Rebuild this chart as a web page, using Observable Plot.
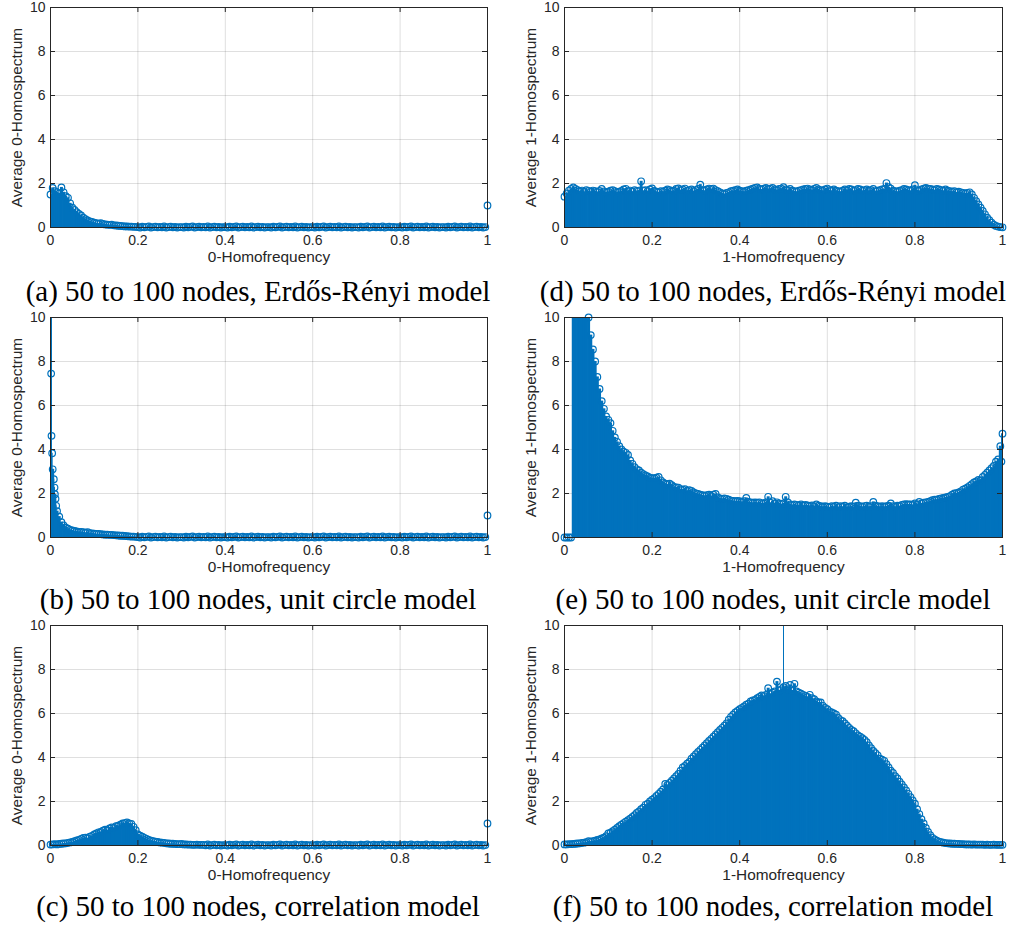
<!DOCTYPE html>
<html><head><meta charset="utf-8">
<script src="https://cdn.jsdelivr.net/npm/d3@7"></script>
<script src="https://cdn.jsdelivr.net/npm/@observablehq/plot@0.6"></script>
<style>
body{margin:0;background:#fff;}
#wrap{position:relative;width:1010px;height:928px;overflow:hidden;background:#fff;}
.panel{position:absolute;}
.cap{position:absolute;font-family:"Liberation Serif","Times New Roman",serif;font-size:29px;line-height:29px;color:#000;white-space:nowrap;transform:translateX(-50%);}
</style></head><body><div id="wrap"></div>
<script>
// frequency grid step (homofrequency sampled every 0.005)
const freqStep = 0.005;
const xTicks = [0, 0.2, 0.4, 0.6, 0.8, 1];
const yTicks = [0, 2, 4, 6, 8, 10];
const xLabels = ["0-Homofrequency", "1-Homofrequency"];
const yLabels = ["Average 0-Homospectrum", "Average 1-Homospectrum"];
const captions = [
  "(a) 50 to 100 nodes, Erdős-Rényi model",
  "(b) 50 to 100 nodes, unit circle model",
  "(c) 50 to 100 nodes, correlation model",
  "(d) 50 to 100 nodes, Erdős-Rényi model",
  "(e) 50 to 100 nodes, unit circle model",
  "(f) 50 to 100 nodes, correlation model"
];

// (a) 0-homospectrum, Erdős-Rényi (grid 0 .. 0.995)
const aSpec = [
1.5,1.8,1.65,1.6,1.55,1.82,1.6,1.42,1.35,1.1,
0.9,0.8,0.7,0.62,0.55,0.45,0.38,0.32,0.28,0.25,
0.22,0.2,0.18,0.2,0.16,0.14,0.13,0.12,0.13,0.1,
0.09,0.08,0.07,0.06,0.05,0.05,0.04,0.04,0.03,0.03,
0.02,0.0,0.04,0.01,0.03,0.05,0.0,0.02,0.04,0.01,
0.03,0.01,0.05,0.0,0.02,0.04,0.01,0.03,0.0,0.02,
0.02,0.0,0.04,0.01,0.03,0.05,0.0,0.02,0.04,0.01,
0.03,0.01,0.05,0.0,0.02,0.04,0.01,0.03,0.0,0.02,
0.02,0.0,0.04,0.01,0.03,0.05,0.0,0.02,0.04,0.01,
0.03,0.01,0.05,0.0,0.02,0.04,0.01,0.03,0.0,0.02,
0.02,0.0,0.04,0.01,0.03,0.05,0.0,0.02,0.04,0.01,
0.03,0.01,0.05,0.0,0.02,0.04,0.01,0.03,0.0,0.02,
0.02,0.0,0.04,0.01,0.03,0.05,0.0,0.02,0.04,0.01,
0.03,0.01,0.05,0.0,0.02,0.04,0.01,0.03,0.0,0.02,
0.02,0.0,0.04,0.01,0.03,0.05,0.0,0.02,0.04,0.01,
0.03,0.01,0.05,0.0,0.02,0.04,0.01,0.03,0.0,0.02,
0.02,0.0,0.04,0.01,0.03,0.05,0.0,0.02,0.04,0.01,
0.03,0.01,0.05,0.0,0.02,0.04,0.01,0.03,0.0,0.02,
0.02,0.0,0.04,0.01,0.03,0.05,0.0,0.02,0.04,0.01,
0.03,0.01,0.05,0.0,0.02,0.04,0.01,0.03,0.0,0.02];
const aExtraFreq = [1];
const aExtraSpec = [1.0];

// (b) 0-homospectrum, unit circle (grid 0 .. 0.995)
const bSpec = [
14,3.1,1.97,1.2,0.95,0.7,0.55,0.45,0.4,0.35,
0.32,0.3,0.28,0.26,0.25,0.24,0.22,0.24,0.2,0.19,
0.17,0.16,0.16,0.15,0.14,0.13,0.13,0.12,0.12,0.11,
0.1,0.09,0.08,0.08,0.07,0.06,0.05,0.04,0.04,0.03,
0.02,0.0,0.04,0.01,0.03,0.05,0.0,0.02,0.04,0.01,
0.03,0.01,0.05,0.0,0.02,0.04,0.01,0.03,0.0,0.02,
0.02,0.0,0.04,0.01,0.03,0.05,0.0,0.02,0.04,0.01,
0.03,0.01,0.05,0.0,0.02,0.04,0.01,0.03,0.0,0.02,
0.02,0.0,0.04,0.01,0.03,0.05,0.0,0.02,0.04,0.01,
0.03,0.01,0.05,0.0,0.02,0.04,0.01,0.03,0.0,0.02,
0.02,0.0,0.04,0.01,0.03,0.05,0.0,0.02,0.04,0.01,
0.03,0.01,0.05,0.0,0.02,0.04,0.01,0.03,0.0,0.02,
0.02,0.0,0.04,0.01,0.03,0.05,0.0,0.02,0.04,0.01,
0.03,0.01,0.05,0.0,0.02,0.04,0.01,0.03,0.0,0.02,
0.02,0.0,0.04,0.01,0.03,0.05,0.0,0.02,0.04,0.01,
0.03,0.01,0.05,0.0,0.02,0.04,0.01,0.03,0.0,0.02,
0.02,0.0,0.04,0.01,0.03,0.05,0.0,0.02,0.04,0.01,
0.03,0.01,0.05,0.0,0.02,0.04,0.01,0.03,0.0,0.02,
0.02,0.0,0.04,0.01,0.03,0.05,0.0,0.02,0.04,0.01,
0.03,0.01,0.05,0.0,0.02,0.04,0.01,0.03,0.0,0.02];
const bExtraFreq = [0.0015, 0.0023, 0.0038, 0.0076, 0.0092, 0.0115, 0.013, 1];
const bExtraSpec = [7.45, 4.62, 3.83, 2.65, 2.27, 1.76, 1.44, 1.0];

// (c) 0-homospectrum, correlation (grid 0 .. 0.995)
const cSpec = [
0.04,0.05,0.06,0.05,0.07,0.08,0.09,0.1,0.12,0.14,
0.16,0.2,0.23,0.26,0.3,0.34,0.36,0.33,0.4,0.44,
0.5,0.55,0.6,0.62,0.68,0.72,0.7,0.78,0.82,0.8,
0.88,0.9,0.95,1.0,1.02,1.05,1.0,0.98,0.85,0.7,
0.5,0.45,0.4,0.35,0.3,0.25,0.22,0.2,0.18,0.16,
0.14,0.13,0.12,0.1,0.09,0.08,0.08,0.07,0.06,0.06,
0.07,0.05,0.05,0.04,0.04,0.03,0.03,0.04,0.03,0.03,
0.03,0.01,0.05,0.0,0.02,0.04,0.01,0.03,0.0,0.02,
0.02,0.0,0.04,0.01,0.03,0.05,0.0,0.02,0.04,0.01,
0.03,0.01,0.05,0.0,0.02,0.04,0.01,0.03,0.0,0.02,
0.02,0.0,0.04,0.01,0.03,0.05,0.0,0.02,0.04,0.01,
0.03,0.01,0.05,0.0,0.02,0.04,0.01,0.03,0.0,0.02,
0.02,0.0,0.04,0.01,0.03,0.05,0.0,0.02,0.04,0.01,
0.03,0.01,0.05,0.0,0.02,0.04,0.01,0.03,0.0,0.02,
0.02,0.0,0.04,0.01,0.03,0.05,0.0,0.02,0.04,0.01,
0.03,0.01,0.05,0.0,0.02,0.04,0.01,0.03,0.0,0.02,
0.02,0.0,0.04,0.01,0.03,0.05,0.0,0.02,0.04,0.01,
0.03,0.01,0.05,0.0,0.02,0.04,0.01,0.03,0.0,0.02,
0.02,0.0,0.04,0.01,0.03,0.05,0.0,0.02,0.04,0.01,
0.03,0.01,0.05,0.0,0.02,0.04,0.01,0.03,0.0,0.02];
const cExtraFreq = [1];
const cExtraSpec = [1.0];

// (d) 1-homospectrum, Erdős-Rényi (grid 0 .. 1)
const dSpec = [
1.4,1.55,1.68,1.75,1.82,1.75,1.7,1.65,1.68,1.62,
1.7,1.66,1.63,1.68,1.65,1.62,1.66,1.75,1.64,1.6,
1.63,1.67,1.7,1.65,1.6,1.63,1.66,1.73,1.76,1.65,
1.68,1.63,1.7,1.66,1.68,2.1,1.67,1.7,1.65,1.73,
1.78,1.66,1.63,1.6,1.65,1.63,1.67,1.73,1.7,1.65,
1.67,1.75,1.78,1.7,1.73,1.77,1.67,1.7,1.73,1.65,
1.7,1.75,1.95,1.7,1.67,1.73,1.77,1.75,1.77,1.7,
1.65,1.6,1.55,1.53,1.57,1.6,1.65,1.67,1.7,1.73,
1.67,1.65,1.63,1.67,1.7,1.73,1.77,1.8,1.82,1.75,
1.73,1.77,1.8,1.75,1.77,1.8,1.73,1.7,1.75,1.77,
1.83,1.73,1.7,1.75,1.67,1.65,1.63,1.67,1.7,1.73,
1.75,1.77,1.73,1.7,1.75,1.8,1.73,1.7,1.67,1.73,
1.77,1.7,1.67,1.73,1.67,1.65,1.63,1.67,1.73,1.7,
1.75,1.73,1.67,1.7,1.75,1.73,1.67,1.7,1.73,1.67,
1.7,1.75,1.65,1.67,1.7,1.73,1.75,2.02,1.83,1.77,
1.67,1.65,1.63,1.67,1.7,1.75,1.73,1.7,1.67,1.73,
1.92,1.7,1.67,1.73,1.77,1.8,1.77,1.75,1.73,1.7,
1.75,1.73,1.7,1.67,1.73,1.67,1.65,1.63,1.65,1.6,
1.63,1.6,1.57,1.55,1.57,1.6,1.5,1.35,1.2,1.05,
0.9,0.75,0.6,0.45,0.33,0.22,0.13,0.07,0.04,0.02,
0.01];
const dExtraFreq = [];
const dExtraSpec = [];

// (e) 1-homospectrum, unit circle (grid 0 .. 1)
const eSpec = [
0,0,0,0,22,20,18,16,14,12.5,
11,10.0,9.2,8.55,8.0,7.3,6.75,6.2,5.85,5.5,
5.35,5.2,4.85,4.55,4.35,4.15,4.0,3.9,3.85,3.75,
3.5,3.35,3.2,3.1,3.05,2.95,2.88,2.82,2.78,2.72,
2.7,2.7,2.72,2.75,2.6,2.5,2.45,2.42,2.45,2.38,
2.3,2.28,2.27,2.2,2.18,2.2,2.12,2.15,2.12,2.05,
2.0,1.98,1.95,1.92,1.9,1.92,1.95,1.88,1.95,1.98,
1.82,1.78,1.76,1.78,1.75,1.72,1.68,1.66,1.65,1.66,
1.65,1.62,1.65,1.8,1.62,1.6,1.58,1.6,1.58,1.6,
1.56,1.55,1.6,1.85,1.58,1.65,1.55,1.6,1.55,1.52,
1.55,1.85,1.6,1.5,1.48,1.5,1.48,1.46,1.5,1.45,
1.48,1.46,1.44,1.46,1.42,1.5,1.45,1.42,1.4,1.42,
1.4,1.38,1.42,1.4,1.45,1.38,1.42,1.4,1.45,1.38,
1.4,1.42,1.4,1.58,1.45,1.42,1.4,1.43,1.45,1.4,
1.42,1.62,1.45,1.42,1.4,1.43,1.4,1.42,1.45,1.55,
1.42,1.4,1.45,1.43,1.48,1.5,1.52,1.5,1.5,1.48,
1.55,1.5,1.62,1.55,1.58,1.6,1.62,1.65,1.7,1.72,
1.72,1.75,1.78,1.8,1.82,1.85,1.88,1.95,2.0,2.02,
2.05,2.1,2.18,2.22,2.28,2.35,2.42,2.5,2.55,2.62,
2.6,2.75,2.85,2.95,3.05,3.15,3.25,3.45,3.55,4.15,
4.72];
const eExtraFreq = [0.9975];
const eExtraSpec = [3.45];

// (f) 1-homospectrum, correlation (grid 0 .. 1)
const fSpec = [
0.05,0.05,0.06,0.06,0.07,0.08,0.09,0.1,0.12,0.13,
0.15,0.2,0.18,0.2,0.22,0.25,0.28,0.32,0.36,0.42,
0.55,0.58,0.65,0.72,0.8,0.88,0.95,1.02,1.08,1.15,
1.22,1.3,1.38,1.48,1.55,1.65,1.72,1.85,1.9,2.0,
2.08,2.15,2.25,2.35,2.45,2.55,2.8,2.75,2.85,2.95,
3.05,3.15,3.25,3.4,3.55,3.62,3.72,3.8,3.95,4.05,
4.15,4.25,4.35,4.45,4.55,4.65,4.75,4.85,4.95,5.05,
5.15,5.25,5.35,5.45,5.55,5.72,5.85,5.95,6.05,6.12,
6.2,6.25,6.32,6.4,6.45,6.55,6.6,6.62,6.7,6.75,
6.82,6.8,6.85,7.15,6.9,6.95,7.0,7.45,7.05,7.1,
7.2,7.25,7.1,7.3,7.05,7.35,7.0,6.95,6.9,6.85,
6.8,6.75,6.85,6.7,6.65,6.55,6.5,6.5,6.35,6.25,
6.2,6.1,6.05,6.0,5.95,5.8,5.7,5.65,5.55,5.45,
5.35,5.25,5.2,5.1,5.0,4.95,4.88,4.8,4.7,4.55,
4.42,4.3,4.2,4.1,3.95,3.9,3.85,3.7,3.55,3.4,
3.3,3.15,3.05,2.9,2.78,2.64,2.5,2.35,2.2,2.05,
1.9,1.65,1.43,1.2,1.0,0.8,0.62,0.47,0.35,0.28,
0.22,0.18,0.15,0.13,0.11,0.1,0.09,0.08,0.08,0.07,
0.07,0.06,0.06,0.05,0.05,0.05,0.04,0.05,0.04,0.04,
0.04,0.04,0.03,0.04,0.03,0.03,0.04,0.03,0.03,0.03,
0.03];
const fExtraFreq = [0.5];
const fExtraSpec = [13];

const blue = "#0072BD";
const axisColor = "#262626";
const frameH = 220;

const panels = [
  {spec: aSpec, ef: aExtraFreq, es: aExtraSpec, col: 0, row: 0, cap: captions[0]},
  {spec: bSpec, ef: bExtraFreq, es: bExtraSpec, col: 0, row: 1, cap: captions[1]},
  {spec: cSpec, ef: cExtraFreq, es: cExtraSpec, col: 0, row: 2, cap: captions[2]},
  {spec: dSpec, ef: dExtraFreq, es: dExtraSpec, col: 1, row: 0, cap: captions[3]},
  {spec: eSpec, ef: eExtraFreq, es: eExtraSpec, col: 1, row: 1, cap: captions[4]},
  {spec: fSpec, ef: fExtraFreq, es: fExtraSpec, col: 1, row: 2, cap: captions[5]}
];
const colLayout = [
  {left: 0, width: 495, marginLeft: 50, capX: 258},
  {left: 505, width: 505, marginLeft: 59, capX: 773}
];
const rowTop = [0, 310, 618];
const capBaseline = [301.5, 609, 916];

const wrap = document.getElementById("wrap");
for (const p of panels) {
  const L = colLayout[p.col];
  const marginRight = 8, marginTop = 7, marginBottom = 42;
  const W = L.width - L.marginLeft - marginRight;
  const pts = p.spec.map((v, i) => ({x: i * freqStep, y: v}));
  const ext = p.ef.map((f, i) => ({x: f, y: p.es[i]}));
  const chart = Plot.plot({
    width: L.width, height: marginTop + frameH + marginBottom,
    marginTop, marginBottom, marginLeft: L.marginLeft, marginRight,
    x: {domain: [0, 1]},
    y: {domain: [0, 10]},
    style: {fontFamily: "'Liberation Sans', Arial, sans-serif", fontSize: "14px", color: axisColor, background: "transparent", overflow: "visible"},
    marks: [
      Plot.gridX(xTicks, {stroke: axisColor, strokeOpacity: 0.15, strokeWidth: 1}),
      Plot.gridY(yTicks, {stroke: axisColor, strokeOpacity: 0.15, strokeWidth: 1}),
      Plot.ruleX(pts, {x: "x", y1: 0, y2: "y", stroke: blue, strokeWidth: 3, clip: true}),
      Plot.ruleX(ext, {x: "x", y1: 0, y2: "y", stroke: blue, strokeWidth: 1, clip: true}),
      Plot.dot(pts.concat(ext).filter(d => d.y <= 10), {x: "x", y: "y", r: 3.3, stroke: blue, strokeWidth: 1.2, fill: "none"}),
      Plot.tickX(xTicks, {x: d => d, insetTop: frameH - 5, stroke: axisColor}),
      Plot.tickX(xTicks, {x: d => d, insetBottom: frameH - 5, stroke: axisColor}),
      Plot.tickY(yTicks, {y: d => d, insetRight: W - 5, stroke: axisColor}),
      Plot.tickY(yTicks, {y: d => d, insetLeft: W - 5, stroke: axisColor}),
      Plot.axisX(xTicks, {tickSize: 0, tickPadding: 8, fontSize: 14, label: null, tickFormat: d => String(d)}),
      Plot.axisY(yTicks, {tickSize: 0, tickPadding: 5, fontSize: 14, label: null, tickFormat: d => String(d)}),
      Plot.text([xLabels[p.col]], {text: d => d, frameAnchor: "bottom", textAnchor: "middle", dy: 34, fontSize: 15.4, fill: axisColor}),
      Plot.text([yLabels[p.col]], {text: d => d, frameAnchor: "left", textAnchor: "middle", dx: -33, rotate: -90, fontSize: 15.4, fill: axisColor}),
      Plot.frame({stroke: axisColor, strokeWidth: 1})
    ]
  });
  chart.classList.add("panel");
  chart.style.left = L.left + "px";
  chart.style.top = rowTop[p.row] + "px";
  wrap.appendChild(chart);

  const cap = document.createElement("div");
  cap.className = "cap";
  cap.textContent = p.cap;
  cap.style.left = L.capX + "px";
  cap.style.top = (capBaseline[p.row] - 24.3) + "px";
  wrap.appendChild(cap);
}
</script>
</body></html>
